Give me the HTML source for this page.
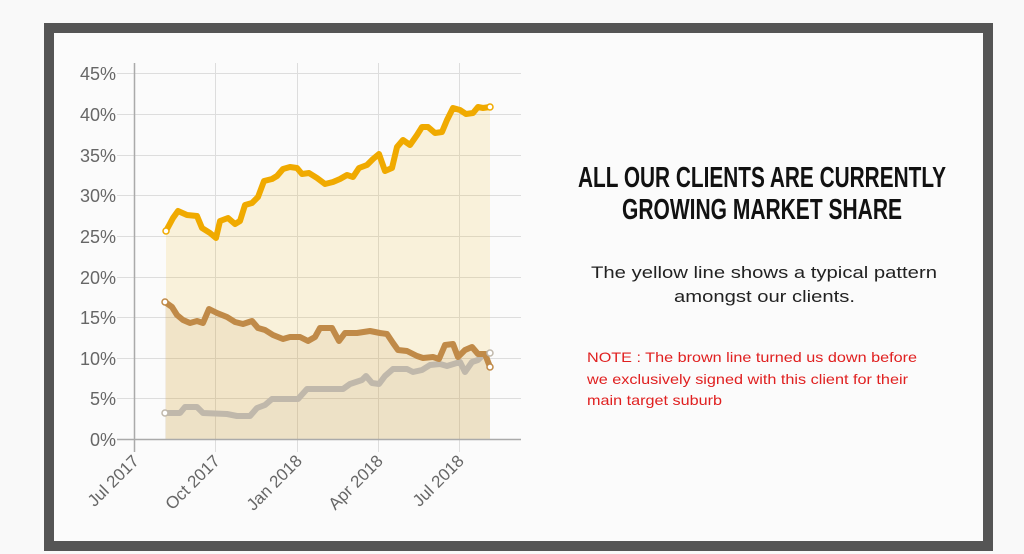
<!DOCTYPE html>
<html><head><meta charset="utf-8"><style>
html,body{margin:0;padding:0;background:#f9f9f9;}
body{width:1024px;height:554px;overflow:hidden;position:relative;font-family:"Liberation Sans",sans-serif;}
</style></head><body>
<svg width="1024" height="554" viewBox="0 0 1024 554" xmlns="http://www.w3.org/2000/svg" style="position:absolute;left:0;top:0">
<rect x="49" y="28" width="939" height="518" fill="#fbfbfb" stroke="#555" stroke-width="10"/>
<g stroke="#ddd" stroke-width="1">
<line x1="117" y1="73.5" x2="521" y2="73.5"/><line x1="117" y1="114.5" x2="521" y2="114.5"/>
<line x1="117" y1="155.5" x2="521" y2="155.5"/><line x1="117" y1="195.5" x2="521" y2="195.5"/>
<line x1="117" y1="236.5" x2="521" y2="236.5"/><line x1="117" y1="277.5" x2="521" y2="277.5"/>
<line x1="117" y1="317.5" x2="521" y2="317.5"/><line x1="117" y1="358.5" x2="521" y2="358.5"/>
<line x1="117" y1="398.5" x2="521" y2="398.5"/>
<line x1="215.5" y1="63" x2="215.5" y2="452"/><line x1="297.5" y1="63" x2="297.5" y2="452"/>
<line x1="378.5" y1="63" x2="378.5" y2="452"/><line x1="459.5" y1="63" x2="459.5" y2="452"/>
</g>
<g stroke-linejoin="round" stroke-linecap="round">
<polygon fill="#f0b000" fill-opacity="0.13" points="166,439 166,231 173,218 178,211 187,215 197,216 202,228 210,233 216,238 220,221 228,218 235,224 240,221 245,205 252,203 258,197 264,181 272,179 277,176 283,169 290,167 297,168 302,174 309,173 317,178 325,184 333,182 340,179 347,175 353,177 359,168 367,165 373,159 379,154 385,171 392,168 397,147 403,140 410,145 417,135 422,127 428,127 435,133 442,132 447,120 453,108 460,110 466,114 473,113 478,107 483,108 490,107 490,439"/>
<polygon fill="#c08a48" fill-opacity="0.12" points="165,439 165,302 172,307 177,315 183,320 190,323 197,321 203,323 209,309 217,313 227,317 235,322 243,324 252,321 258,328 265,330 273,335 283,339 290,337 300,337 308,341 315,337 320,328 332,328 339,341 345,333 357,333 370,331 380,333 387,334 393,343 398,350 407,351 417,356 423,358 433,357 439,359 445,345 453,344 458,357 465,350 472,347 478,354 485,354 490,367 490,439"/>
<polygon fill="#bfb7aa" fill-opacity="0.06" points="165,439 165,413 180,413 185,407 197,407 203,413 227,414 237,416 250,416 257,408 265,405 272,399 298,399 307,389 343,389 350,384 362,380 366,376 372,383 379,384 385,376 393,369 407,369 413,372 422,370 430,365 440,364 447,366 460,362 465,372 472,362 478,360 483,355 490,353 490,439"/>
<polyline fill="none" stroke="#c0b8ab" stroke-width="6" points="165,413 180,413 185,407 197,407 203,413 227,414 237,416 250,416 257,408 265,405 272,399 298,399 307,389 343,389 350,384 362,380 366,376 372,383 379,384 385,376 393,369 407,369 413,372 422,370 430,365 440,364 447,366 460,362 465,372 472,362 478,360 483,355 490,353"/>
<polyline fill="none" stroke="#c08a48" stroke-width="6" points="165,302 172,307 177,315 183,320 190,323 197,321 203,323 209,309 217,313 227,317 235,322 243,324 252,321 258,328 265,330 273,335 283,339 290,337 300,337 308,341 315,337 320,328 332,328 339,341 345,333 357,333 370,331 380,333 387,334 393,343 398,350 407,351 417,356 423,358 433,357 439,359 445,345 453,344 458,357 465,350 472,347 478,354 485,354 490,367"/>
<polyline fill="none" stroke="#f0aa00" stroke-width="6" points="166,231 173,218 178,211 187,215 197,216 202,228 210,233 216,238 220,221 228,218 235,224 240,221 245,205 252,203 258,197 264,181 272,179 277,176 283,169 290,167 297,168 302,174 309,173 317,178 325,184 333,182 340,179 347,175 353,177 359,168 367,165 373,159 379,154 385,171 392,168 397,147 403,140 410,145 417,135 422,127 428,127 435,133 442,132 447,120 453,108 460,110 466,114 473,113 478,107 483,108 490,107"/>
</g>
<g fill="#fff" stroke-width="1.5">
<circle cx="166" cy="231" r="3" stroke="#f0aa00"/><circle cx="490" cy="107" r="3" stroke="#f0aa00"/>
<circle cx="165" cy="302" r="3" stroke="#c08a48"/><circle cx="490" cy="367" r="3" stroke="#c08a48"/>
<circle cx="165" cy="413" r="3" stroke="#c0b8ab"/><circle cx="490" cy="353" r="3" stroke="#c0b8ab"/>
</g>
<line x1="134.5" y1="63" x2="134.5" y2="452" stroke="#aaa" stroke-width="1.5"/>
<line x1="117" y1="439.5" x2="521" y2="439.5" stroke="#aaa" stroke-width="1.5"/>
<g font-family="Liberation Sans, sans-serif" font-size="18" fill="#666" text-anchor="end">
<text x="116" y="80">45%</text><text x="116" y="121">40%</text><text x="116" y="162">35%</text>
<text x="116" y="202">30%</text><text x="116" y="243">25%</text><text x="116" y="284">20%</text>
<text x="116" y="324">15%</text><text x="116" y="365">10%</text><text x="116" y="405">5%</text>
<text x="116" y="446">0%</text>
</g>
<g font-family="Liberation Sans, sans-serif" font-size="17" fill="#666" text-anchor="end">
<text transform="translate(140,462) rotate(-45)">Jul 2017</text>
<text transform="translate(221,462) rotate(-45)">Oct 2017</text>
<text transform="translate(303,462) rotate(-45)">Jan 2018</text>
<text transform="translate(384,462) rotate(-45)">Apr 2018</text>
<text transform="translate(465,462) rotate(-45)">Jul 2018</text>
</g>
<g font-family="Liberation Sans, sans-serif" font-weight="bold" font-size="29" fill="#111">
<text x="578" y="187" textLength="368" lengthAdjust="spacingAndGlyphs">ALL OUR CLIENTS ARE CURRENTLY</text>
<text x="622" y="219" textLength="280" lengthAdjust="spacingAndGlyphs">GROWING MARKET SHARE</text>
</g>
<g font-family="Liberation Sans, sans-serif" font-size="17" fill="#222">
<text x="591" y="278" textLength="346" lengthAdjust="spacingAndGlyphs">The yellow line shows a typical pattern</text>
<text x="674" y="302" textLength="181" lengthAdjust="spacingAndGlyphs">amongst our clients.</text>
</g>
<g font-family="Liberation Sans, sans-serif" font-size="14" fill="#e02020">
<text x="587" y="362" textLength="330" lengthAdjust="spacingAndGlyphs">NOTE : The brown line turned us down before</text>
<text x="587" y="384" textLength="321" lengthAdjust="spacingAndGlyphs">we exclusively signed with this client for their</text>
<text x="587" y="405" textLength="135" lengthAdjust="spacingAndGlyphs">main target suburb</text>
</g>
</svg>
</body></html>
